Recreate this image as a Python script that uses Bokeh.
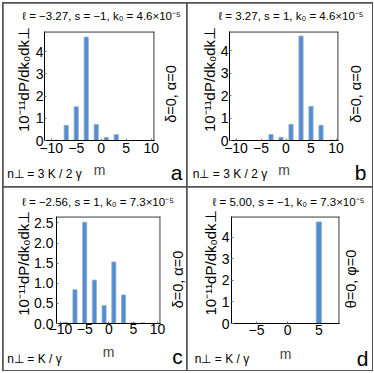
import math
from bokeh.plotting import figure
from bokeh.layouts import column, row
from bokeh.models import Range1d, Label, FixedTicker
from bokeh.embed import file_html
from bokeh.resources import INLINE

FONT = "Liberation Sans"

# ---- data ----
m_odd = [-9, -7, -5, -3, -1, 1, 3, 5, 7, 9]
a_vals = [0.02, 0.68, 1.52, 4.65, 0.72, 0.14, 0.27, 0.0, 0.0, 0.0]
b_vals = [0.0, 0.0, 0.0, 0.27, 0.14, 0.72, 4.65, 1.52, 0.68, 0.02]
c_vals = [0.03, 0.84, 2.52, 1.08, 0.45, 1.53, 0.71, 0.02, 0.02, 0.0]
d_m = [5]
d_vals = [4.72]

xticks_abc = [-10, -5, 0, 5, 10]
xticks_d = [-5, 0, 5]
yticks_int = [0, 1, 2, 3, 4]
yticks_c = [0.0, 0.5, 1.0, 1.5, 2.0, 2.5]

titles = ["ℓ = −3.27, s = −1, k₀ = 4.6×10⁻⁵",
          "ℓ = 3.27, s = 1, k₀ = 4.6×10⁻⁵",
          "ℓ = −2.56, s = 1, k₀ = 7.3×10⁻⁵",
          "ℓ = 5.00, s = −1, k₀ = 7.3×10⁻⁵"]
side_texts = ["δ=0, α=0", "δ=0, α=0", "δ=0, α=0", "θ=0, φ=0"]
n_texts = ["n⊥ = 3 K / 2 γ", "n⊥ = 3 K / 2 γ", "n⊥ = K / γ", "n⊥ = K / γ"]
letters = ["a", "b", "c", "d"]
ylabel = "10⁻¹¹dP/dk₀dk⊥"

BAR = "#4e8ed6"
EDGE = "#a3aebb"


def panel(w, h, borders, xr, yr, xs, ys, xticks, yticks, yfmt, xstand, ystand, mstand,
          title, tpos, ylpos, side, spos, ntext, npos, letter, lpos, letter_side):
    bl, br, bt, bb = borders
    p = figure(width=w, height=h, output_backend="svg", toolbar_location=None,
               x_range=Range1d(*xr), y_range=Range1d(*yr),
               min_border_left=bl, min_border_right=br,
               min_border_top=bt, min_border_bottom=bb)
    xa = p.xaxis[0]
    ya = p.yaxis[0]
    p.vbar(x=xs, top=ys, bottom=0, width=0.85, fill_color=BAR,
           line_color=EDGE, line_width=0.8)
    # top and right edges of the plot frame: 1 px strips just inside the frame
    x0, x1 = p.x_range.start, p.x_range.end
    y0, y1 = p.y_range.start, p.y_range.end
    dx = (x1 - x0) / (w - bl - br)
    dy = (y1 - y0) / (h - bt - bb)
    p.quad(left=[x0, x1 - dx], right=[x1, x1], bottom=[y1 - dy, y0], top=[y1, y1],
           fill_color="#222222", line_color=None)
    p.grid.visible = False
    p.outline_line_color = None
    p.background_fill_color = "white"
    p.border_fill_color = "white"
    for ax in (xa, ya):
        ax.axis_line_color = "black"
        ax.major_tick_in = 2
        ax.major_tick_out = 0
        ax.minor_tick_line_color = None
        ax.major_tick_line_color = "#777777"
        ax.major_label_text_font = FONT
        ax.major_label_text_font_size = "14px"
        ax.major_label_text_color = "black"
    xa.ticker = FixedTicker(ticks=xticks)
    xa.major_label_overrides = {t: (("−" + str(abs(t))) if t < 0 else str(t)) for t in xticks}
    ya.ticker = FixedTicker(ticks=yticks)
    ya.major_label_overrides = {t: (yfmt % t) for t in yticks}
    xa.major_label_standoff = xstand
    ya.major_label_standoff = ystand
    xa.axis_label = "m"
    xa.axis_label_text_font = FONT
    xa.axis_label_text_font_style = "normal"
    xa.axis_label_text_font_size = "14px"
    xa.axis_label_standoff = mstand

    def lab(text, pos, size, side_name, angle=0.0):
        p.add_layout(Label(x=pos[0], y=pos[1], x_units="canvas", y_units="canvas",
                           text=text, angle=angle, text_align="center",
                           text_baseline="middle", text_font=FONT,
                           text_font_size=size, text_color="black"), side_name)

    lab(title, tpos, "11.5px", "above")
    lab(ntext, npos, "12px", "above")
    lab(ylabel, ylpos, "15px", "left", angle=math.pi / 2)
    lab(side, spos, "14.5px", "right", angle=math.pi / 2)
    lab(letter, lpos, "21px", letter_side)
    return p


pa = panel(183, 183, (41, 32, 28, 46), (-11.35, 10.65), (0, 4.9), m_odd, a_vals,
           xticks_abc, yticks_int, "%d", 2, 1, 6,
           titles[0], (98, 12), (20, 76), side_texts[0], (167, 90.5),
           n_texts[0], (41, 170), letters[0], (173, 169), "right")
pb = panel(185, 183, (42, 34, 27, 46), (-11.3, 10.5), (0, 4.85), m_odd, b_vals,
           xticks_abc, yticks_int, "%d", 2, 1, 6,
           titles[1], (103.5, 12), (21.7, 76), side_texts[1], (168, 90.5),
           n_texts[1], (42.5, 170), letters[1], (173, 169), "right")
pc = panel(183, 183, (50, 26, 28, 47), (-10.8, 10.6), (0, 2.66), m_odd, c_vals,
           xticks_abc, yticks_c, "%.1f", 0, 3, 7,
           titles[2], (94.5, 14), (20.3, 75.7), side_texts[2], (174, 92),
           n_texts[2], (31, 171), letters[2], (174, 169), "left")
pd = panel(185, 183, (44, 33, 29, 47), (-9.0, 8.3), (0, 4.97), d_m, d_vals,
           xticks_d, yticks_int, "%d", 1, 2, 8,
           titles[3], (101, 14), (23.3, 75.5), side_texts[3], (163, 91.5),
           n_texts[3], (34.5, 171), letters[3], (175, 171), "right")

r1 = row(pa, pb, spacing=1)
r2 = row(pc, pd, spacing=1)
g = column(r1, r2, spacing=1)
g.styles = {"background-color": "#555555", "padding": "1px", "margin": "2px"}

open("out.html", "w").write(file_html(g, INLINE))
